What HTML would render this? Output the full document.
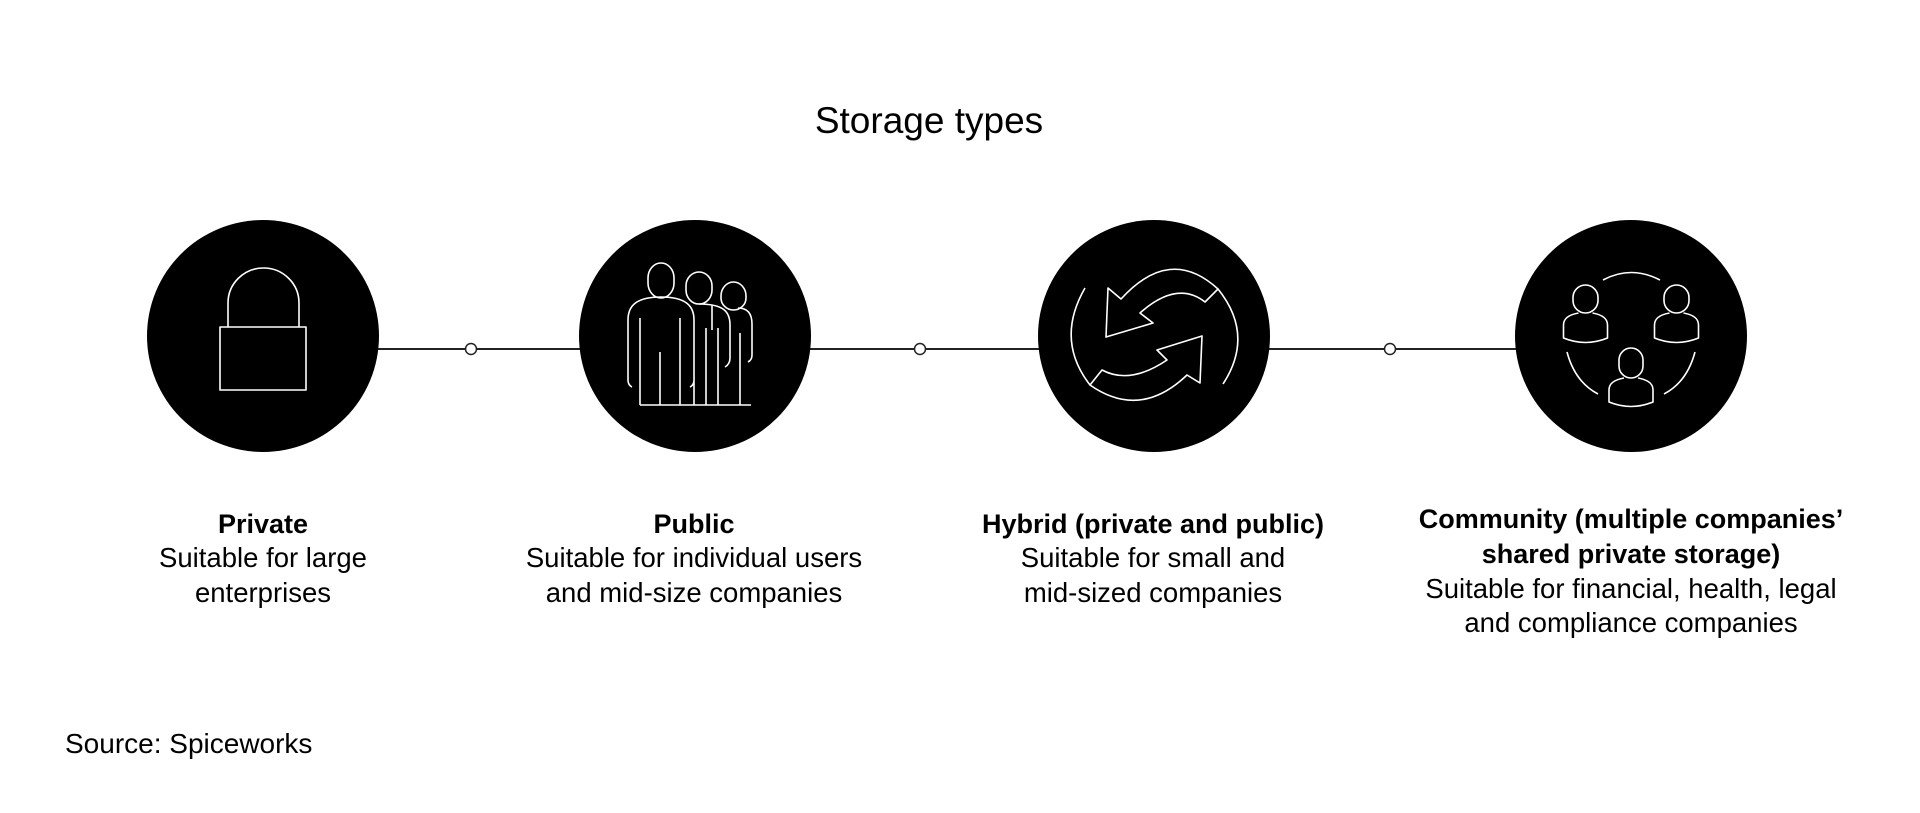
<!DOCTYPE html>
<html><head><meta charset="utf-8"><style>
html,body{margin:0;padding:0;background:#fff;}
svg{display:block;}
text{font-family:"Liberation Sans",sans-serif;fill:#000;}
.h{font-weight:bold;font-size:27px;}
.t{font-size:27.5px;}
</style></head><body>
<svg width="1920" height="813" viewBox="0 0 1920 813">
<rect width="1920" height="813" fill="#fff"/>
<text x="929" y="133" text-anchor="middle" font-size="37">Storage types</text>
<line x1="263" y1="349" x2="1630" y2="349" stroke="#222" stroke-width="2"/>
<g fill="#fff" stroke="#222" stroke-width="1.5">
<circle cx="471" cy="349" r="5.5"/><circle cx="920" cy="349" r="5.5"/><circle cx="1390" cy="349" r="5.5"/>
</g>
<g fill="#000">
<circle cx="263" cy="336" r="116"/><circle cx="695" cy="336" r="116"/>
<circle cx="1154" cy="336" r="116"/><circle cx="1631" cy="336" r="116"/>
</g>
<g fill="none" stroke="#fff" stroke-width="1.6" stroke-linejoin="round">
<path d="M228 327 L228 303 A35.5 35 0 0 1 299 303 L299 327"/>
<rect x="220" y="327" width="86" height="63"/>
<path d="M721 296 A12.5 14 0 1 1 746 296 L746 298 A12.5 12 0 0 1 721 298 Z" />
<path d="M712 330 L712 305 M752 324 C752 310 744 308 738 308 M752 324 L752 355 Q752 360 748 362 M740 333 L740 405"/>
<path d="M686 286 A13 14 0 1 1 712 286 L712 290 A13 14 0 0 1 686 290 Z"/>
<path d="M699 304 C724 304 730 312 730 325 L730 358 Q730 364 725 367 M718 328 L718 405 M706 328 L706 405"/>
<path d="M648 278 A13 15 0 1 1 674 278 L674 283 A13 15 0 0 1 648 283 Z"/>
<path d="M661 297 C636 297 628 306 628 320 L628 380 Q628 385 632 387 M661 297 C686 297 694 306 694 320 L694 380 Q694 385 690 387 M640 318 L640 405 M660 352 L660 405 M680 318 L680 405 M640 405 L751 405 M694 340 L694 405"/>
<path d="M1090 385 L1102 370 Q1130 385 1167 360 L1157 350 L1202 336 L1200 383 L1187 375 Q1140 420 1090 385 Z"/>
<path d="M1218 289 L1205 302 Q1177 280 1140 313 L1153 323 L1106 337 L1108 288 L1121 299 Q1170 245 1218 289 Z"/>
<path d="M1085 288 Q1055 340 1090 385"/>
<path d="M1218 289 Q1255 335 1223 384"/>
<path d="M1603 280 Q1631 265 1660 280"/>
<path d="M1567 352 Q1575 382 1598 394"/>
<path d="M1695 352 Q1687 382 1664 394"/>
<g transform="translate(1585.5,285)">
<rect x="-12.5" y="0" width="25" height="28" rx="12.5"/>
<path d="M-7 28 C-18 30 -22 34 -22 40 L-22 53 Q0 62 22 53 L22 40 C22 34 18 30 7 28"/>
</g>
<g transform="translate(1676.5,285)">
<rect x="-12.5" y="0" width="25" height="28" rx="12.5"/>
<path d="M-7 28 C-18 30 -22 34 -22 40 L-22 53 Q0 62 22 53 L22 40 C22 34 18 30 7 28"/>
</g>
<g transform="translate(1631,348)">
<rect x="-12" y="0" width="24" height="30" rx="12"/>
<path d="M-7 30 C-18 32 -22 36 -22 42 L-22 54 Q0 63 22 54 L22 42 C22 36 18 32 7 30"/>
</g>
</g>
<g text-anchor="middle">
<text class="h" x="263" y="533">Private</text>
<text class="t" x="263" y="567">Suitable for large</text>
<text class="t" x="263" y="602">enterprises</text>
<text class="h" x="694" y="533">Public</text>
<text class="t" x="694" y="567">Suitable for individual users</text>
<text class="t" x="694" y="602">and mid-size companies</text>
<text class="h" x="1153" y="533">Hybrid (private and public)</text>
<text class="t" x="1153" y="567">Suitable for small and</text>
<text class="t" x="1153" y="602">mid-sized companies</text>
<text class="h" x="1631" y="528">Community (multiple companies’</text>
<text class="h" x="1631" y="563">shared private storage)</text>
<text class="t" x="1631" y="598">Suitable for financial, health, legal</text>
<text class="t" x="1631" y="632">and compliance companies</text>
</g>
<text x="65" y="753" font-size="28">Source: Spiceworks</text>
</svg>
</body></html>
